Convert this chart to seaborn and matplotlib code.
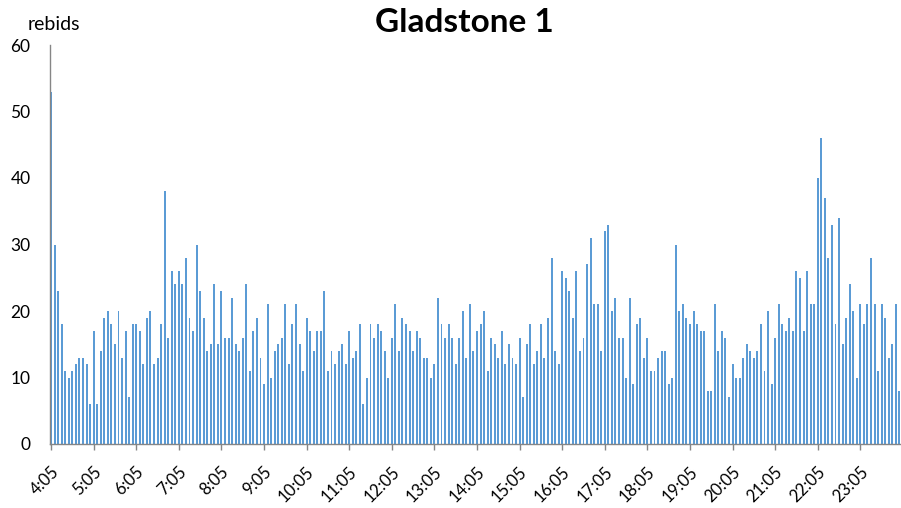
import matplotlib
matplotlib.use("Agg")
import matplotlib.pyplot as plt
from matplotlib.transforms import ScaledTranslation, blended_transform_factory
import seaborn as sns
import pandas as pd

# rebids per 5-minute interval, starting 4:05
rebids = [
    53, 30, 23, 18, 11, 10, 11, 12, 13, 13, 12, 6, 17, 6, 14, 19, 20, 18, 15, 20,
    13, 17, 7, 18, 18, 17, 12, 19, 20, 12, 13, 18, 38, 16, 26, 24, 26, 24, 28, 19,
    17, 30, 23, 19, 14, 15, 24, 15, 23, 16, 16, 22, 15, 14, 16, 24, 11, 17, 19, 13,
    9, 21, 10, 14, 15, 16, 21, 12, 18, 21, 15, 11, 19, 17, 14, 17, 17, 23, 11, 14,
    12, 14, 15, 12, 17, 13, 14, 18, 6, 10, 18, 16, 18, 17, 14, 10, 16, 21, 14, 19,
    18, 17, 14, 17, 16, 13, 13, 10, 12, 22, 18, 16, 18, 16, 12, 16, 20, 13, 21, 14,
    17, 18, 20, 11, 16, 15, 13, 17, 12, 15, 13, 12, 16, 7, 15, 18, 12, 14, 18, 13,
    19, 28, 14, 12, 26, 25, 23, 19, 26, 14, 16, 27, 31, 21, 21, 14, 32, 33, 20, 22,
    16, 16, 10, 22, 9, 18, 19, 13, 16, 11, 11, 13, 14, 14, 9, 10, 30, 20, 21, 19,
    18, 20, 18, 17, 17, 8, 8, 21, 14, 17, 16, 7, 12, 10, 10, 13, 15, 14, 13, 14,
    18, 11, 20, 9, 16, 21, 18, 17, 19, 17, 26, 25, 17, 26, 21, 21, 40, 46, 37, 28,
    33, 18, 34, 15, 19, 24, 20, 10, 21, 18, 21, 28, 21, 11, 21, 19, 13, 15, 21, 8,
]

# time labels, 5-minute steps from 4:05
times = []
for i in range(len(rebids)):
    m = 4 * 60 + 5 + 5 * i
    times.append(f"{(m // 60) % 24}:{m % 60:02d}")

label_every = 12
y_ticks = [0, 10, 20, 30, 40, 50, 60]

df = pd.DataFrame({"time": times, "rebids": rebids})

sns.set_style("white")
plt.rcParams["font.family"] = ["Lato", "DejaVu Sans"]
plt.rcParams["text.color"] = "black"
plt.rcParams["ytick.labelcolor"] = "black"

fig = plt.figure(figsize=(9.01, 5.08), dpi=100)
ax = fig.add_axes([50 / 901, 64 / 508, 851 / 901, 399 / 508])

sns.barplot(data=df, x="time", y="rebids", color="#5B9BD5", saturation=1,
            width=0.55, linewidth=0, ax=ax)

ax.set_xlim(-0.3, len(rebids) - 0.55)
ax.set_ylim(0, 60)
ax.set_yticks(y_ticks)
tick_pos = list(range(0, len(rebids), label_every))
ax.set_xticks(tick_pos)
ax.set_xticklabels([])
ax.set_xlabel("")
ax.set_ylabel("")

# rotated time labels, placed like the Excel original
trans = blended_transform_factory(ax.transData, ax.transAxes) + \
    ScaledTranslation(5 / 100, -25 / 100, fig.dpi_scale_trans)
for p in tick_pos:
    ax.text(p, 0, times[p], transform=trans, rotation=45, ha="right", va="center",
            rotation_mode="anchor", fontsize=12, color="black")

for s in ["top", "right"]:
    ax.spines[s].set_visible(False)
for s in ["left", "bottom"]:
    ax.spines[s].set_color("#868686")
    ax.spines[s].set_linewidth(1)
ax.tick_params(axis="y", length=5, width=1, color="#868686", pad=9, labelsize=12.5)
ax.tick_params(axis="x", bottom=True, length=4.5, width=1, color="#868686", pad=4)

fig.text(464 / 901, 1 - 22 / 508, "Gladstone 1", ha="center", va="center",
         fontsize=24, fontweight="bold")
fig.text(54 / 901, 1 - 25 / 508, "rebids", ha="center", va="center", fontsize=14)

fig.savefig("out.png", dpi=100)
